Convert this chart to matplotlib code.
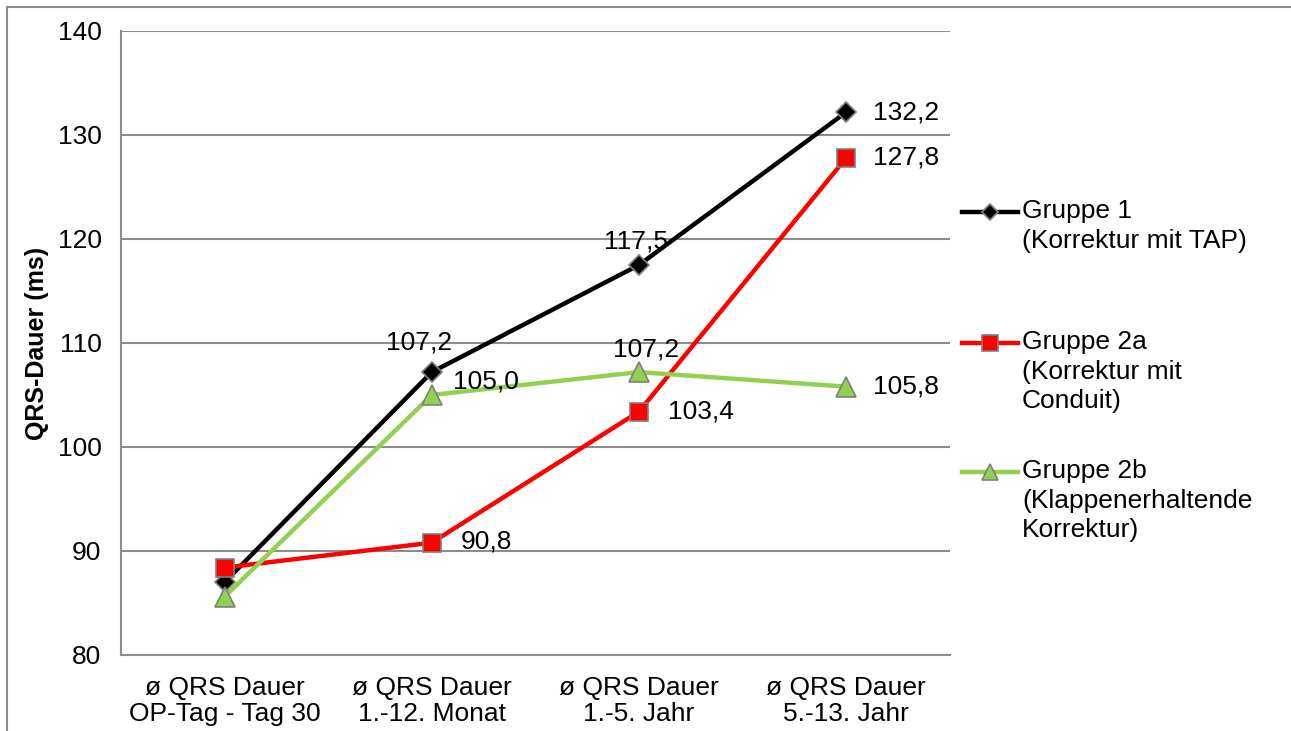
import matplotlib.pyplot as plt
from matplotlib.lines import Line2D
from matplotlib.patches import Rectangle

plt.rcParams["font.family"] = ["Liberation Sans", "DejaVu Sans"]

# QRS duration per follow-up interval (ms)
categories = [
    "ø QRS Dauer\nOP-Tag - Tag 30",
    "ø QRS Dauer\n1.-12. Monat",
    "ø QRS Dauer\n1.-5. Jahr",
    "ø QRS Dauer\n5.-13. Jahr",
]
gruppe_1 = [87.0, 107.2, 117.5, 132.2]
gruppe_2a = [88.4, 90.8, 103.4, 127.8]
gruppe_2b = [85.6, 105.0, 107.2, 105.8]

series_names = [
    "Gruppe 1\n(Korrektur mit TAP)",
    "Gruppe 2a\n(Korrektur mit\nConduit)",
    "Gruppe 2b\n(Klappenerhaltende\nKorrektur)",
]

FS = 19
EDGE = "#7f7f7f"

fig = plt.figure(figsize=(12.91, 7.31), dpi=100)
ax = fig.add_axes([0.0937, 0.104, 0.642, 0.8536])

x = list(range(len(categories)))
styles = [
    dict(color="black", marker="D", ms=10, mfc="black"),
    dict(color="#ff0000", marker="s", ms=13, mfc="#ff0000"),
    dict(color="#92d050", marker="^", ms=14, mfc="#92d050"),
]
all_series = [gruppe_1, gruppe_2a, gruppe_2b]
for vals, st in zip(all_series, styles):
    ax.plot(x, vals, color=st["color"], lw=3.2, marker=st["marker"],
            ms=st["ms"], mfc=st["mfc"], mec=EDGE, mew=1.2, zorder=3)

# value labels (offsets in points)
labels = [
    (gruppe_1, 1, (-9, 21), "center"),
    (gruppe_1, 2, (-2, 17), "center"),
    (gruppe_1, 3, (19, 0), "left"),
    (gruppe_2a, 1, (21, 1), "left"),
    (gruppe_2a, 2, (21, 0), "left"),
    (gruppe_2a, 3, (19, 0), "left"),
    (gruppe_2b, 1, (15, 10), "left"),
    (gruppe_2b, 2, (5, 16), "center"),
    (gruppe_2b, 3, (19, 0), "left"),
]
for vals, i, off, ha in labels:
    ax.annotate(f"{vals[i]:.1f}".replace(".", ","), (i, vals[i]),
                xytext=off, textcoords="offset points", ha=ha, va="center",
                fontsize=FS, zorder=4)

ax.set_xlim(-0.5, 3.5)
ax.set_ylim(80, 140)
ax.set_yticks(range(80, 141, 10))
ax.set_xticks(x)
ax.set_xticklabels(categories, fontsize=FS, linespacing=1.1)
ax.tick_params(axis="y", labelsize=FS, length=0, pad=14)
ax.tick_params(axis="x", length=0, pad=15)
ax.grid(axis="y", color="#8c8c8c", lw=1.5)
ax.set_axisbelow(True)
for side in ["top", "right"]:
    ax.spines[side].set_visible(False)
for side in ["left", "bottom"]:
    ax.spines[side].set_color("#8c8c8c")
    ax.spines[side].set_linewidth(1.5)
ax.set_ylabel("QRS-Dauer (ms)", fontsize=18, fontweight="bold", labelpad=6)

# legend drawn by hand so markers line up with the first text row
W, H = 1291, 731
rows = [212, 343, 472]
for name, st, yp in zip(series_names, styles, rows):
    yf = 1 - yp / H
    fig.add_artist(Line2D([962 / W, 1018 / W], [yf, yf], color=st["color"], lw=3.2))
    fig.add_artist(Line2D([990 / W], [yf], marker=st["marker"],
                          ms=st["ms"] * 0.85, mfc=st["mfc"], mec=EDGE, mew=1.2,
                          color=st["color"]))
    fig.text(1022 / W, yf + 13 / H, name, fontsize=FS, va="top", ha="left",
             linespacing=1.3)

# chart frame
fig.add_artist(Rectangle((7 / W, -0.1), 1.2, 1 - 7 / H + 0.1,
                         transform=fig.transFigure, fill=False,
                         edgecolor="#8c8c8c", lw=1.5))

fig.savefig("out.png", dpi=100)
